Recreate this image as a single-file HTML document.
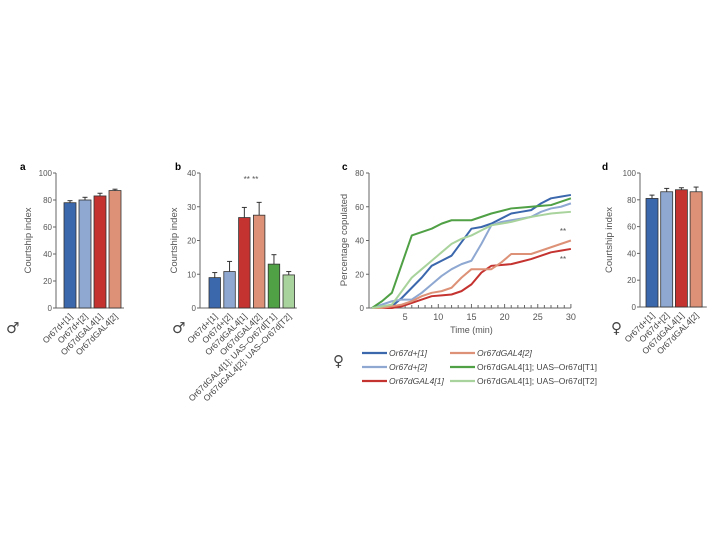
<!DOCTYPE html>
<html><head><meta charset="utf-8"><style>
body{margin:0;background:#fff;}
svg{font-family:"Liberation Sans",sans-serif;}
</style></head><body>
<svg id="s" width="720" height="540" xmlns="http://www.w3.org/2000/svg"></svg>
<script>
const NS='http://www.w3.org/2000/svg';
const svg=document.getElementById('s');
function mk(t,a,p){const e=document.createElementNS(NS,t);for(const k in a)e.setAttribute(k,a[k]);(p||svg).appendChild(e);return e;}
const C=['#3b67ad','#8ea8d2','#c53330','#dd9177','#50a046','#a9d39c'];

// Panel a data
const aCats=['Or67d+[1]','Or67d+[2]','Or67dGAL4[1]','Or67dGAL4[2]'];
const aVals=[78,80,83,87];
const aErr=[1.5,2,2,1];
const aTicks=[0,20,40,60,80,100];
// Panel b data
const bCats=['Or67d+[1]','Or67d+[2]','Or67dGAL4[1]','Or67dGAL4[2]','Or67dGAL4[1]; UAS–Or67d[T1]','Or67dGAL4[2]; UAS–Or67d[T2]'];
const bVals=[9,10.8,26.8,27.5,13,9.8];
const bErr=[1.5,3,3,3.8,2.8,1];
const bTicks=[0,10,20,30,40];
// Panel d data
const dCats=['Or67d+[1]','Or67d+[2]','Or67dGAL4[1]','Or67dGAL4[2]'];
const dVals=[81,86,87.5,86];
const dErr=[2.5,2.5,1.5,3.5];
const dTicks=[0,20,40,60,80,100];
// Panel c data
const cNames=['Or67d+[1]','Or67d+[2]','Or67dGAL4[1]','Or67dGAL4[2]','Or67dGAL4[1]; UAS–Or67d[T1]','Or67dGAL4[1]; UAS–Or67d[T2]'];
const cTimes=[0,1.5,3,4.5,6,7.5,9,10.5,12,13.5,15,16.5,18,19.5,21,22.5,24,25.5,27,28.5,30];
const cS0=[0,0,1,6,12,18,25,28,31,39,47,48,50,53,56,57,58,62,65,66,67];
const cS1=[0,2,4,5,5,9,14,19,23,26,28,38,49,51,52,53,54,57,59,60,62];
const cS2=[0,0,0,1,3,5,7,7.5,8,10,14,21,25,25.5,26,27.5,29,31,33,34,35];
const cS3=[0,0,1,2,4,7,9,10,12,18,23,23,23,27,32,32,32,34,36,38,40];
const cS4=[0,4,9,26,43,45,47,50,52,52,52,54,56,57.5,59,59.5,60,60.5,61,63,65];
const cS5=[0,1,2,10,18,23,28,33,38,41,43,46,49,50,51,52.5,54,55,56,56.5,57];
const cTicksY=[0,20,40,60,80];
const cTicksX=[5,10,15,20,25,30];

function txt(x,y,s,a,name){const t=mk('text',Object.assign({x:x,y:y,'font-size':8,fill:'#555'},a||{}));t.textContent=s;return t;}

function barPanel(o){
  const g=mk('g',{});
  
  
  const y=v=>o.y0-(v/o.max)*(o.y0-o.y1);
  mk('line',{x1:o.ax,y1:o.y1,x2:o.ax,y2:o.y0,stroke:'#666','stroke-width':1},g);
  mk('line',{x1:o.ax,y1:o.y0,x2:o.ax+8+o.vals.length*o.step,y2:o.y0,stroke:'#666','stroke-width':1},g);
  o.ticks.forEach(t=>{
    const l=mk('line',{x1:o.ax-3,y1:y(t),x2:o.ax,y2:y(t),stroke:'#666'},g);
    
    
    const tt=txt(o.ax-4,y(t)+3,String(t),{'text-anchor':'end'},'y-tick-label');g.appendChild(tt);
  });
  o.vals.forEach((v,i)=>{
    const x=o.bx+i*o.step;
    const e=mk('line',{x1:x+o.bw/2,y1:y(v),x2:x+o.bw/2,y2:y(v+o.err[i]),stroke:'#333'},g);
    
    
    mk('line',{x1:x+o.bw/2-2.5,y1:y(v+o.err[i]),x2:x+o.bw/2+2.5,y2:y(v+o.err[i]),stroke:'#333'},g);
    const r=mk('rect',{x:x,y:y(v),width:o.bw,height:o.y0-y(v),fill:C[i],stroke:'#333','stroke-width':0.8},g);
    
    
    const lx=x+o.bw/2+3,ly=o.y0+9;
    const t=txt(lx,ly,o.cats[i],{'text-anchor':'end',transform:`rotate(-45 ${lx} ${ly})`,'font-size':8.5,fill:'#444'},'x-tick-label');
    g.appendChild(t);
  });
  const yt=txt(o.tx,(o.y0+o.y1)/2,'Courtship index',{'text-anchor':'middle',transform:`rotate(-90 ${o.tx} ${(o.y0+o.y1)/2})`,'font-size':9.5},'y-axis-title');g.appendChild(yt);
}
barPanel({name:'panel-a',ax:56,y0:308,y1:173,max:100,bx:64,bw:12,step:15,vals:aVals,err:aErr,cats:aCats,ticks:aTicks,tx:31});
barPanel({name:'panel-b',ax:200,y0:308,y1:173,max:40,bx:209,bw:11.5,step:14.8,vals:bVals,err:bErr,cats:bCats,ticks:bTicks,tx:177});
barPanel({name:'panel-d',ax:640,y0:307,y1:173,max:100,bx:646,bw:12,step:14.7,vals:dVals,err:dErr,cats:dCats,ticks:dTicks,tx:612});

// Panel c
const cg=mk('g',{});


const cx=t=>372+t*6.63, cy=v=>308-v/80*135;
mk('line',{x1:369,y1:173,x2:369,y2:308,stroke:'#666'},cg);
mk('line',{x1:369,y1:308,x2:cx(30),y2:308,stroke:'#666'},cg);
cTicksY.forEach(t=>{mk('line',{x1:366,y1:cy(t),x2:369,y2:cy(t),stroke:'#666'},cg);cg.appendChild(txt(364,cy(t)+3,String(t),{'text-anchor':'end'},'y-tick-label'));});
for(let m=1;m<=30;m++){mk('line',{x1:cx(m),y1:308,x2:cx(m),y2:m%5?305:304,stroke:'#666'},cg);}
cTicksX.forEach(t=>cg.appendChild(txt(cx(t),320,String(t),{'text-anchor':'middle','font-size':9},'x-tick-label')));
cg.appendChild(txt(cx(15),333,'Time (min)',{'text-anchor':'middle','font-size':9},'x-axis-title'));
cg.appendChild(txt(347,240,'Percentage copulated',{'text-anchor':'middle',transform:'rotate(-90 347 240)','font-size':9.5},'y-axis-title'));
[cS0,cS1,cS2,cS3,cS4,cS5].forEach((s,i)=>{
  const p=mk('polyline',{points:s.map((v,j)=>cx(cTimes[j])+','+cy(v)).join(' '),fill:'none',stroke:C[i],'stroke-width':2,'stroke-linejoin':'round'},cg);
  
  
});
cg.appendChild(txt(563,234,'**',{'text-anchor':'middle','font-size':8},'significance'));
cg.appendChild(txt(563,262,'**',{'text-anchor':'middle','font-size':8},'significance'));
// legend
const lg=mk('g',{});


lg.appendChild(txt(333,366,'♀',{'font-size':15,fill:'#444','font-family':'DejaVu Sans, sans-serif'},'female-symbol'));
const lx=[362,362,362,450,450,450],ly=[353,367,381,353,367,381];
[0,1,2,3,4,5].forEach(i=>{
  const l=mk('line',{x1:lx[i],y1:ly[i],x2:lx[i]+25,y2:ly[i],stroke:C[i],'stroke-width':2.2},lg);
  
  
  lg.appendChild(txt(lx[i]+27,ly[i]+3,cNames[i],{'font-size':8.5,fill:'#444','font-style':i<4?'italic':'normal'},'legend-label'));
});

// letters, stars, symbols
[['a',20,170],['b',175,170],['c',342,170],['d',602,170]].forEach(a=>txt(a[1],a[2],a[0],{'font-weight':'bold','font-size':10,fill:'#000'},'panel-letter'));
txt(251,182,'**  **',{'text-anchor':'middle','font-size':8},'significance');
txt(6,333,'♂',{'font-size':15,fill:'#444','font-family':'DejaVu Sans, sans-serif'},'male-symbol');
txt(172,333,'♂',{'font-size':15,fill:'#444','font-family':'DejaVu Sans, sans-serif'},'male-symbol');
txt(611,333,'♀',{'font-size':15,fill:'#444','font-family':'DejaVu Sans, sans-serif'},'female-symbol');
</script>
</body></html>
